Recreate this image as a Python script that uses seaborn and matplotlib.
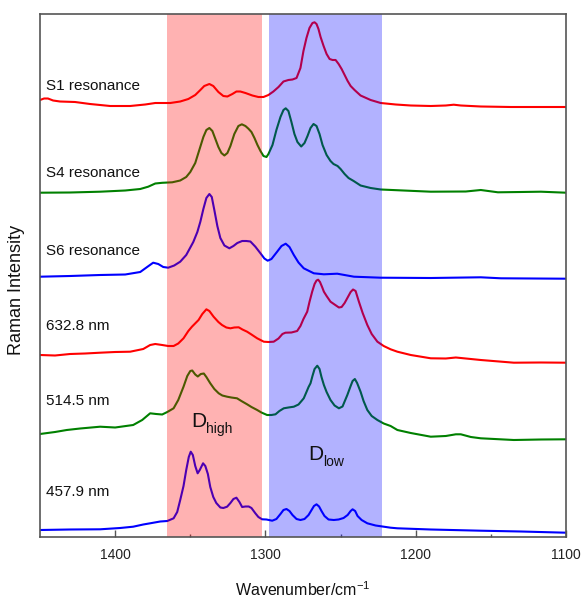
import matplotlib
matplotlib.use("Agg")
import matplotlib.pyplot as plt
import pandas as pd
import seaborn as sns

# ---------------- data ----------------
spectrum_names = ["S1 resonance", "S4 resonance", "S6 resonance",
                  "632.8 nm", "514.5 nm", "457.9 nm"]
spectrum_colors = ["#ff0000", "#008000", "#0000ff", "#ff0000", "#008000", "#0000ff"]

s1_x = [1450, 1447.3, 1444.7, 1441.3, 1436.7, 1426.7, 1416.7, 1403.3, 1390, 1380, 1373.3,
        1363.3, 1356.7, 1351.3, 1346.7, 1343.3, 1340.7, 1337.3, 1334.7, 1331.3, 1328, 1325.3,
        1322, 1319.3, 1316.7, 1313.3, 1308.7, 1304.7, 1301.3, 1298, 1294.7, 1291.3, 1288,
        1284.7, 1282, 1279.3, 1276.7, 1274.7, 1272.7, 1270.7, 1268.7, 1267.3, 1266, 1264.7,
        1263.3, 1261.3, 1259.3, 1257.3, 1255.3, 1253.3, 1251.3, 1249.3, 1247.3, 1245.3,
        1243.3, 1240.7, 1236.7, 1230, 1223.3, 1213.3, 1203.3, 1190, 1180, 1174.7, 1170,
        1156.7, 1136.7, 1116.7, 1100]
s1_y = [437, 438.5, 438.5, 436.5, 435.5, 435, 433, 431, 431, 432.5, 434,
        434, 435.5, 438, 442, 447, 451, 453, 451, 445, 441, 440.5,
        443, 445.5, 445.5, 444, 441.5, 440, 440, 442, 445.5, 450, 455.5,
        457, 457.5, 459, 469, 486, 499, 509, 514, 514.7, 513, 508,
        500, 491, 483, 478, 477, 477, 473, 468, 462, 456,
        451, 447, 441.5, 437, 434, 432.5, 431.5, 431, 431.5, 432.3, 431.5,
        430.5, 430, 430, 430]

s4_x = [1450, 1430, 1410, 1393.3, 1383.3, 1378, 1373.3, 1368.7, 1362, 1356.7, 1352.7,
        1350, 1346.7, 1344, 1341.3, 1339.3, 1337.3, 1335.3, 1333.3, 1331.3, 1329.3, 1327.3,
        1325.3, 1323.3, 1320.7, 1318, 1315.7, 1313.3, 1311.3, 1309.3, 1307.3, 1305.3, 1303.3,
        1301.3, 1299.3, 1298, 1295.3, 1292.7, 1290, 1288, 1286.5, 1284.7, 1282.7, 1280.7,
        1278.7, 1276.2, 1274, 1272, 1270, 1268, 1266, 1264, 1262, 1259.3, 1256.7, 1254.7,
        1252, 1250, 1247.3, 1244.7, 1241.3, 1236.7, 1230, 1223.3, 1190, 1166.7, 1156.7,
        1145.3, 1130, 1116.7, 1100]
s4_y = [344.3, 344.5, 345.3, 346.5, 348, 350.3, 353.5, 354.2, 354.7, 356.5, 360,
        365, 374, 387, 400, 407, 409, 406, 398, 390, 384, 381.5,
        384, 391, 403, 411, 412.7, 411, 408.3, 405, 399, 392, 386,
        381, 380, 383, 392, 407, 420, 427, 428.7, 426, 415, 403,
        395, 390.5, 394, 401, 409, 413, 411, 403, 392, 382, 376, 373,
        371, 368, 363, 359, 356, 351.5, 349, 347.5, 345.3, 345.5, 347,
        344.7, 345, 345.3, 344.3]

s6_x = [1450, 1430, 1410, 1393.3, 1383.3, 1378.7, 1374.7, 1371.3, 1368, 1364.7, 1360.7,
        1356.7, 1352.7, 1348, 1345.3, 1343.3, 1341.3, 1339.3, 1337.3, 1335.7, 1334, 1332,
        1330, 1327.3, 1324, 1321.3, 1318.7, 1315.5, 1312.7, 1310, 1306.7, 1303.3, 1300.7,
        1298.5, 1296, 1292.2, 1289.3, 1286.5, 1284, 1281.1, 1278, 1274.5, 1267.8, 1261.1,
        1252.2, 1241.1, 1223.3, 1190, 1156.7, 1143.3, 1100]
s6_y = [260.3, 261, 262, 262.5, 265, 270, 274.3, 273, 270, 269.3, 271.5,
        275.3, 282, 295, 305, 315.3, 328, 339, 343, 340, 327, 311,
        299, 291.5, 288.7, 291, 294, 296, 296, 295.5, 290.3, 283.7, 278.5,
        276.3, 278, 285.3, 291, 293.3, 290, 282, 274.5, 268.7, 263.7, 262.7,
        263.3, 260.3, 259.3, 259, 259.7, 258.7, 258.3]

nm633_x = [1450, 1440, 1430, 1420, 1410, 1400, 1390, 1381.3, 1376.7, 1373.3, 1368.7,
           1364.7, 1361.1, 1358, 1354.5, 1351.3, 1348.9, 1344.5, 1342, 1339.3, 1337.3,
           1334.5, 1331.3, 1328.9, 1326, 1323.3, 1320.7, 1317.8, 1315.3, 1312.2, 1309.3,
           1305.5, 1301.1, 1298, 1294.5, 1291.3, 1288.7, 1286.7, 1282.7, 1278.9, 1276.7,
           1274.7, 1272.2, 1270.7, 1268.9, 1267.3, 1266, 1264.9, 1263.7, 1262.3, 1261.1,
           1259.3, 1256.7, 1254, 1251.1, 1249.3, 1247.3, 1245.3, 1243.3, 1241.7, 1240,
           1237.8, 1235.3, 1232.2, 1229.3, 1225.5, 1221.3, 1216.7, 1212.2, 1203.3, 1190,
           1180, 1173.3, 1168, 1156.7, 1134.7, 1116.7, 1100]
nm633_y = [182, 181.5, 183, 183.5, 184.3, 185, 185.3, 188, 192, 193, 192,
           191, 191, 193.5, 198.7, 206, 210.3, 217, 223, 227.7, 226,
           220.3, 215, 212, 209.5, 208.7, 209.5, 209.7, 207.5, 205.3, 202.5,
           198.7, 195.3, 195, 195.3, 198.5, 203, 204.3, 204.5, 206, 211,
           218, 225.3, 235, 245.3, 253, 256.5, 257.3, 255, 250, 245.3,
           241, 235.3, 232.5, 229.5, 230, 234, 239.5, 245, 247.5, 246,
           235.3, 224, 212, 203, 195.3, 191, 187.7, 185.3, 182, 178.7,
           178.5, 179.5, 178.7, 177, 174.3, 174.5, 174.3]

nm514_x = [1450, 1440, 1432.2, 1423.3, 1410, 1400, 1388, 1382, 1376.7, 1372.7, 1368.7,
           1365.3, 1361.1, 1358, 1354.5, 1352, 1350, 1348.7, 1346.7, 1345, 1343, 1341,
           1339.3, 1336.7, 1334, 1331.1, 1328.7, 1325.5, 1322.7, 1318.9, 1316, 1312.2,
           1309.3, 1305.5, 1302.7, 1298.9, 1296, 1293.3, 1290.7, 1287.8, 1284.7, 1281.1,
           1278, 1276, 1274.5, 1272.7, 1271.3, 1270, 1268.7, 1267.3, 1265.5, 1264, 1262.7,
           1261.1, 1259.3, 1256.7, 1254, 1251.1, 1248.7, 1245.5, 1243.3, 1242, 1240.5, 1239,
           1236.7, 1234.7, 1232.2, 1229.3, 1225.5, 1221.3, 1216.7, 1212.2, 1203.3, 1190,
           1180, 1173.3, 1170, 1163.3, 1156.7, 1134.7, 1116.7, 1100]
nm514_y = [103, 105, 107, 108.5, 110.3, 109.5, 112, 117, 123.7, 123, 122.5,
           125, 128.7, 137, 150.3, 161, 166, 166.5, 162.5, 160.5, 163, 163.5,
           160, 153.7, 148, 143.7, 141.5, 140.3, 139.5, 138.7, 136, 132.7,
           130, 127, 124.5, 122, 122, 122.7, 126, 128.7, 129.5, 130.3,
           132.5, 136, 138.7, 145, 150, 153.7, 161, 168, 171.3, 168, 160,
           152, 145, 137, 131.5, 128.7, 130.5, 142, 151, 156, 158, 154,
           145.3, 136, 127, 121, 117, 113.5, 111, 107, 104, 100.3,
           101, 102.7, 102.7, 100, 98.7, 97, 97.5, 97.7]

nm458_x = [1450, 1430, 1410, 1396.7, 1388, 1381.3, 1376.7, 1370, 1365.3, 1361.1, 1358.7,
           1356.7, 1354.5, 1352.7, 1351, 1349.7, 1348.3, 1346.7, 1345.1, 1343.7, 1341.5,
           1340, 1338.3, 1336.7, 1334.7, 1332.7, 1330, 1328, 1325.5, 1323.3, 1321.3,
           1319.3, 1317.3, 1315.5, 1313.3, 1311.1, 1309.3, 1306.7, 1304.7, 1302.2, 1299.3,
           1295.5, 1292.7, 1290, 1288, 1286, 1284, 1282, 1279.3, 1276.7, 1274, 1271.3,
           1269.3, 1267.7, 1266, 1264.3, 1262.7, 1260.7, 1258, 1254.5, 1251.3, 1248,
           1245.3, 1243.3, 1242, 1240.3, 1238.7, 1236, 1232.2, 1226.7, 1216.7, 1212.2,
           1190, 1156.7, 1130, 1100]
nm458_y = [7, 7.5, 7.7, 9, 10.3, 12.5, 13.7, 15.5, 16, 18.7, 25,
           37, 51, 67, 80, 85.3, 82, 71, 63.7, 67, 73.7,
           71, 63, 50, 40, 34, 29.5, 29, 30.3, 34, 38,
           39.3, 35, 30, 30.5, 30.5, 29, 23.7, 20, 17.7, 17.5,
           16.3, 18, 23, 27, 28, 26, 22, 18, 17, 18, 22,
           27, 31, 32.7, 30.5, 26, 21, 17.5, 17, 17.5, 19,
           22, 26, 27.7, 26, 21, 17, 13.7, 11.5, 9.3, 8.7,
           7.5, 6.3, 5.5, 4.3]

band_high = (1365.3, 1302.2)   # D_high region
band_low = (1297.3, 1222.7)    # D_low region
tick_major = [1400, 1300, 1200, 1100]
tick_minor = [1350, 1250, 1150]

series_x = [s1_x, s4_x, s6_x, nm633_x, nm514_x, nm458_x]
series_y = [s1_y, s4_y, s6_y, nm633_y, nm514_y, nm458_y]

frames = []
for name, xs, ys in zip(spectrum_names, series_x, series_y):
    frames.append(pd.DataFrame({"wavenumber": xs, "intensity": ys, "spectrum": name}))
df = pd.concat(frames, ignore_index=True)

# ---------------- styling ----------------
sns.set_style("white")
plt.rcParams["font.family"] = ["Liberation Sans", "DejaVu Sans"]
plt.rcParams["mathtext.default"] = "regular"

W, H = 583, 601
fig = plt.figure(figsize=(W / 100, H / 100), dpi=100)
ax = fig.add_axes([40 / W, 64 / H, 526 / W, 523 / H])

palette = dict(zip(spectrum_names, spectrum_colors))
sns.lineplot(data=df, x="wavenumber", y="intensity", hue="spectrum", palette=palette,
             estimator=None, sort=False, legend=False, linewidth=1.5, ax=ax, zorder=2)

ax.axvspan(*band_high, color="#ff0000", alpha=0.3, lw=0, zorder=3)
ax.axvspan(*band_low, color="#0000ff", alpha=0.3, lw=0, zorder=3)

ax.set_xlim(1450, 1100)
ax.set_ylim(0, 523)
ax.set_yticks([])
ax.set_xticks(tick_major)
ax.set_xticks(tick_minor, minor=True)
ax.set_xticklabels([str(t) for t in tick_major], fontsize=10, color="#222222")
ax.tick_params(axis="x", which="major", direction="in", length=5, width=1,
               color="#555555", pad=8, bottom=True)
ax.tick_params(axis="x", which="minor", direction="in", length=2.5, width=1,
               color="#555555", bottom=True)
for sp in ax.spines.values():
    sp.set_color("#555555")
    sp.set_linewidth(1.2)
    sp.set_zorder(5)

ax.set_xlabel("Wavenumber/cm$^{-1}$", fontsize=11.5, color="#111111")
ax.xaxis.set_label_coords(0.5, -0.082)
ax.xaxis.label.set_va("top")
ax.set_ylabel("Raman Intensity", fontsize=13, color="#111111")
ax.yaxis.set_label_coords(-0.0285, 0.472)

label_y = [450.5, 364, 286, 211, 136, 44.5]
for name, yy in zip(spectrum_names, label_y):
    ax.text(1446, yy, name, fontsize=11, va="center", ha="left", color="#111111", zorder=6)

ax.text(1349.5, 110.3, "D", fontsize=15, va="baseline", ha="left", color="#111111", zorder=6)
ax.text(1339.3, 104, "high", fontsize=10, va="baseline", ha="left", color="#111111", zorder=6)
ax.text(1271.5, 77, "D", fontsize=15, va="baseline", ha="left", color="#111111", zorder=6)
ax.text(1261.8, 71, "low", fontsize=10, va="baseline", ha="left", color="#111111", zorder=6)

fig.savefig("out.png", dpi=100)
